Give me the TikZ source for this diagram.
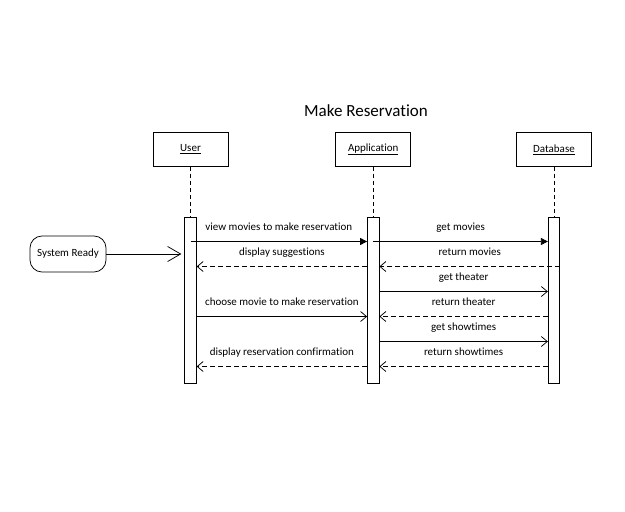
\documentclass[tikz,border=0pt]{standalone}
\usepackage{fontspec}
\setmainfont{Carlito}[Ligatures=NoCommon]
\usetikzlibrary{arrows.meta, positioning}
\tikzstyle{actor} = [rectangle, draw=black, minimum width=75pt, minimum height=34pt, inner sep=0pt, font=\fontsize{11}{13}\selectfont]
\tikzstyle{bar} = [rectangle, draw=black, fill=white, minimum width=11.5pt, minimum height=166pt, inner sep=0pt]
\tikzstyle{state} = [rectangle, rounded corners=12pt, draw=black, minimum width=76pt, minimum height=36pt, font=\fontsize{11}{13}\selectfont]
\tikzstyle{life} = [dash pattern=on 4pt off 3pt]
\tikzstyle{call} = [-{Triangle[length=7pt,width=7pt]}]
\tikzstyle{async} = [-{Straight Barb[length=6pt,width=10pt]}]
\tikzstyle{reply} = [async, dash pattern=on 5pt off 3pt]
\tikzstyle{lbl} = [above=5pt, text height=8pt, text depth=2.5pt, font=\fontsize{11}{13}\selectfont]

\begin{document}
\begin{tikzpicture}[x=1pt, y=-1pt, line width=0.75pt]
  \useasboundingbox (0,0) rectangle (625,512);

  \node (title) at (366,111) {\fontsize{17}{20}\selectfont Make Reservation};

  \node (user) [actor] at (190.5,149.5) {\underline{User}};
  \node (app) [actor, right=107pt of user] {\underline{Application}};
  \node (db) [actor, right=105pt of app] {\underline{Database}};

  \node (ubar) [bar, below=50pt of user] {};
  \node (abar) [bar, below=50pt of app] {};
  \node (dbar) [bar, below=50pt of db] {};

  \draw [life] (user) -- (ubar);
  \draw [life] (app) -- (abar);
  \draw [life] (db) -- (dbar);

  \foreach \i in {1,...,6}
    \coordinate (r\i) at (0,216.5+25*\i);

  \node (ready) [state] at (68,254) {System Ready};
  \draw [-{Straight Barb[length=13pt,width=15pt]}, shorten >=3pt] (ready) -- (ubar.west |- ready);

  % user <-> application
  \draw [call] (ubar |- r1) -- node[lbl] {view movies to make reservation} (abar.west |- r1);
  \draw [reply] (abar.west |- r2) -- node[lbl] {display suggestions} (ubar.east |- r2);
  \draw [async] (ubar.east |- r4) -- node[lbl] {choose movie to make reservation} (abar.west |- r4);
  \draw [reply] (abar.west |- r6) -- node[lbl] {display reservation confirmation} (ubar.east |- r6);

  % application <-> database
  \draw [call] (abar |- r1) -- node[lbl] {get movies} (dbar.west |- r1);
  \draw [reply] (dbar.east |- r2) -- node[lbl] {return movies} (abar.east |- r2);
  \draw [async] (abar.east |- r3) -- node[lbl] {get theater} (dbar.west |- r3);
  \draw [reply] (dbar.west |- r4) -- node[lbl] {return theater} (abar.east |- r4);
  \draw [async] (abar.east |- r5) -- node[lbl] {get showtimes} (dbar.west |- r5);
  \draw [reply] (dbar.west |- r6) -- node[lbl] {return showtimes} (abar.east |- r6);

\end{tikzpicture}
\end{document}
